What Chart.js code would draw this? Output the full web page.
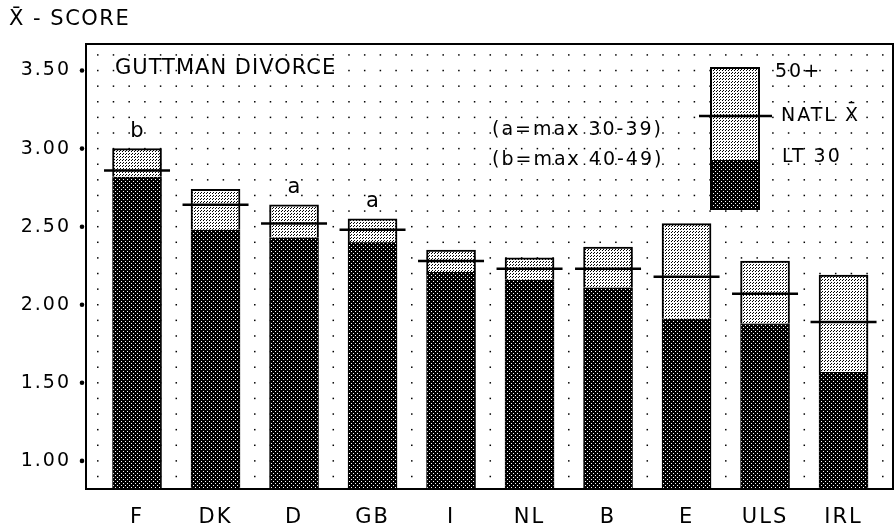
<!DOCTYPE html>
<html>
<head>
<meta charset="utf-8">
<script src="https://cdn.jsdelivr.net/npm/chart.js@4"></script>
<style>
  body { margin: 0; background: #fff; }
  #wrap { width: 895px; height: 531px; }
</style>
</head>
<body>
<div id="wrap"><canvas id="chart"></canvas></div>
<script>
// countries along the x axis
const cats = ["F", "DK", "D", "GB", "I", "NL", "B", "E", "ULS", "IRL"];
// mean score of the under-30 group (top of the dark part)
const lt30 = [2.82, 2.48, 2.43, 2.40, 2.21, 2.16, 2.11, 1.91, 1.88, 1.57];
// mean score of the 50+ group (top of the bar)
const over50 = [3.00, 2.74, 2.64, 2.55, 2.35, 2.30, 2.37, 2.52, 2.28, 2.19];
// national mean (the cross line)
const natl = [2.86, 2.64, 2.52, 2.48, 2.28, 2.23, 2.23, 2.18, 2.07, 1.89];
// letter above the bar: a = max 30-39, b = max 40-49
const maxMarks = ["b", "", "a", "a", "", "", "", "", "", ""];
const yTicks = [1.00, 1.50, 2.00, 2.50, 3.00, 3.50];

const FONT = "'DejaVu Sans', sans-serif";

// speckled fills like the plotter shading
function makePattern(bg, fg, size, dots) {
    const c = document.createElement("canvas");
    c.width = size; c.height = size;
    const g = c.getContext("2d");
    g.fillStyle = bg;
    g.fillRect(0, 0, size, size);
    g.fillStyle = fg;
    dots.forEach(d => g.fillRect(d[0], d[1], 1, 1));
    return g.createPattern(c, "repeat");
}
const darkFill = makePattern("#000", "#fff", 4, [[1, 1], [3, 3]]);
const lightFill = makePattern("#fff", "#000", 3, [[0, 0], [2, 1]]);

const decor = {
    id: "decor",
    beforeDraw(chart) {
        const ctx = chart.ctx;
        ctx.save();
        ctx.fillStyle = "#fff";
        ctx.fillRect(0, 0, chart.width, chart.height);
        ctx.restore();
        ctx.letterSpacing = "2px";
    },
    beforeDatasetsDraw(chart) {
        // dotted background grid
        const ctx = chart.ctx, xs = chart.scales.x, ys = chart.scales.y;
        ctx.save();
        ctx.fillStyle = "#000";
        for (let i = 0; i <= 50; i++) {
            const xv = -0.5 + i * 0.2;
            if (xv > xs.max) break;
            const px = xs.getPixelForValue(xv);
            for (let j = 9; j <= 36; j++) {
                const py = ys.getPixelForValue(j / 10);
                ctx.fillRect(px - 0.75, py - 0.75, 1.5, 1.5);
            }
        }
        ctx.restore();
    },
    afterDatasetsDraw(chart) {
        const ctx = chart.ctx, a = chart.chartArea;
        const xs = chart.scales.x, ys = chart.scales.y;
        ctx.save();
        ctx.strokeStyle = "#000";
        ctx.lineWidth = 2;
        ctx.strokeRect(a.left, a.top, a.right - a.left, a.bottom - a.top);

        // tick dots on the y axis
        ctx.fillStyle = "#000";
        yTicks.forEach(v => {
            ctx.beginPath();
            ctx.arc(a.left - 4, ys.getPixelForValue(v), 2.3, 0, Math.PI * 2);
            ctx.fill();
        });

        // a / b marks above the bars
        ctx.letterSpacing = "0px";
        ctx.font = "21px " + FONT;
        ctx.textAlign = "center";
        ctx.textBaseline = "bottom";
        maxMarks.forEach((m, i) => {
            if (m) ctx.fillText(m, xs.getPixelForValue(i), ys.getPixelForValue(over50[i]) - 7);
        });

        // texts
        ctx.textAlign = "left";
        ctx.textBaseline = "middle";
        ctx.font = "21px " + FONT;
        ctx.letterSpacing = "1.5px";
        ctx.fillText("X\u0304 - SCORE", 9, 20);
        ctx.font = "21px " + FONT;
        ctx.letterSpacing = "1px";
        ctx.fillText("GUTTMAN DIVORCE", 115, 69);
        ctx.font = "19px " + FONT;
        ctx.letterSpacing = "2px";
        ctx.fillText("(a=max 30-39)", 492, 130);
        ctx.fillText("(b=max 40-49)", 492, 160);

        // legend bar
        const lx = 711, lw = 48, ltop = 68, lmid = 160, lbot = 209;
        ctx.fillStyle = lightFill;
        ctx.fillRect(lx, ltop, lw, lmid - ltop);
        ctx.fillStyle = darkFill;
        ctx.fillRect(lx, lmid, lw, lbot - lmid);
        ctx.lineWidth = 2;
        ctx.strokeRect(lx, ltop, lw, lbot - ltop);
        ctx.lineWidth = 2.5;
        ctx.beginPath();
        ctx.moveTo(699, 116);
        ctx.lineTo(772, 116);
        ctx.stroke();
        ctx.fillStyle = "#000";
        ctx.fillText("50+", 775, 72);
        ctx.fillText("NATL X\u0304", 781, 116);
        ctx.fillText("LT 30", 782, 157);
        ctx.restore();
    }
};

const ctx = document.getElementById("chart").getContext("2d");
new Chart(ctx, {
    type: "bar",
    data: {
        datasets: [
            {
                type: "line",
                label: "NATL X",
                data: natl.map((v, i) => ({ x: i, y: v })),
                showLine: false,
                pointStyle: "line",
                pointRadius: 33,
                pointBorderWidth: 2.5,
                pointBorderColor: "#000",
                pointBackgroundColor: "#000",
                order: 0
            },
            {
                label: "50+",
                data: over50.map((v, i) => ({ x: i, y: [lt30[i], v] })),
                backgroundColor: lightFill,
                borderColor: "#000",
                borderWidth: 2,
                borderSkipped: "bottom",
                barThickness: 49,
                grouped: false,
                order: 1
            },
            {
                label: "LT 30",
                data: lt30.map((v, i) => ({ x: i, y: v })),
                backgroundColor: darkFill,
                borderColor: "#000",
                borderWidth: 1,
                barThickness: 49,
                grouped: false,
                order: 2
            }
        ]
    },
    options: {
        responsive: true,
        maintainAspectRatio: false,
        animation: false,
        layout: { autoPadding: false, padding: { top: 44, right: 2, left: 0, bottom: 0 } },
        plugins: {
            legend: { display: false },
            tooltip: { enabled: false }
        },
        scales: {
            x: {
                type: "linear",
                offset: false,
                min: -0.65,
                max: 9.63,
                grid: { display: false, offset: false },
                border: { display: false },
                afterBuildTicks: s => { s.ticks = cats.map((c, i) => ({ value: i })); },
                afterFit: s => {
                    s.height = 42;
                    s.paddingLeft = 0;
                    s.paddingRight = 0;
                },
                ticks: {
                    autoSkip: false,
                    maxRotation: 0,
                    padding: 8,
                    color: "#000",
                    font: { family: FONT, size: 21 },
                    callback: v => cats[v]
                }
            },
            y: {
                min: 0.82,
                max: 3.67,
                grid: { display: false },
                border: { display: false },
                afterBuildTicks: s => { s.ticks = yTicks.map(v => ({ value: v })); },
                afterFit: s => {
                    s.width = 86;
                    s.paddingTop = 0;
                    s.paddingBottom = 0;
                },
                ticks: {
                    padding: 7,
                    color: "#000",
                    font: { family: FONT, size: 19 },
                    callback: v => v.toFixed(2)
                }
            }
        }
    },
    plugins: [decor]
});
</script>
</body>
</html>
